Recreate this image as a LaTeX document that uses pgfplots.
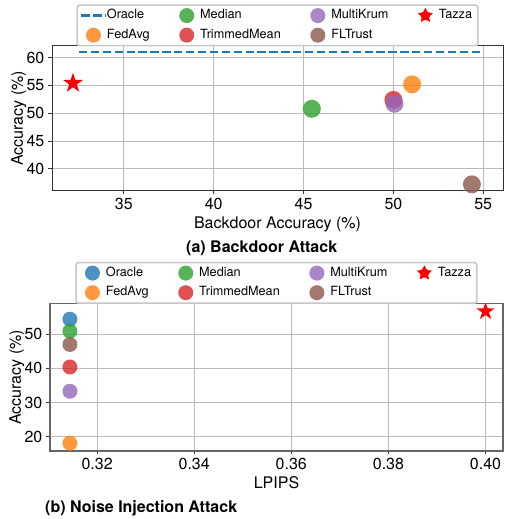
\documentclass[border=0pt]{standalone}
\usepackage{fontspec}
\setmainfont{TeX Gyre Heros}
\usepackage{pgfplots}
\pgfplotsset{compat=1.18}
\definecolor{c0}{HTML}{1F77B4}
\definecolor{c1}{HTML}{FF7F0E}
\definecolor{c2}{HTML}{2CA02C}
\definecolor{c3}{HTML}{D62728}
\definecolor{c4}{HTML}{9467BD}
\definecolor{c5}{HTML}{8C564B}
\definecolor{spine}{HTML}{333333}
\definecolor{gridc}{HTML}{BBBBBB}
\definecolor{legedge}{HTML}{C8C8C8}

\pgfdeclareplotmark{fstar}{%
  \pgfpathmoveto{\pgfpointpolar{90}{\pgfplotmarksize}}%
  \pgfpathlineto{\pgfpointpolar{126}{0.382*\pgfplotmarksize}}%
  \pgfpathlineto{\pgfpointpolar{162}{\pgfplotmarksize}}%
  \pgfpathlineto{\pgfpointpolar{198}{0.382*\pgfplotmarksize}}%
  \pgfpathlineto{\pgfpointpolar{234}{\pgfplotmarksize}}%
  \pgfpathlineto{\pgfpointpolar{270}{0.382*\pgfplotmarksize}}%
  \pgfpathlineto{\pgfpointpolar{306}{\pgfplotmarksize}}%
  \pgfpathlineto{\pgfpointpolar{342}{0.382*\pgfplotmarksize}}%
  \pgfpathlineto{\pgfpointpolar{18}{\pgfplotmarksize}}%
  \pgfpathlineto{\pgfpointpolar{54}{0.382*\pgfplotmarksize}}%
  \pgfpathclose
  \pgfusepathqfill
}
\pgfdeclareplotmark{fcirc}{%
  \pgfpathcircle{\pgfpointorigin}{\pgfplotmarksize}%
  \pgfusepathqfill
}

\newcommand{\legcirc}[1]{\addlegendimage{legend image code/.code={\path[draw=none,fill=none] (0pt,-6pt) rectangle (24pt,6pt); \fill[draw=none, fill=#1, fill opacity=0.8, overlay] (12pt,0pt) circle (7.5pt);}}}
\newcommand{\legdash}[1]{\addlegendimage{legend image code/.code={\path[draw=none,fill=none] (0pt,-6pt) rectangle (24pt,6pt); \draw[draw=#1, line width=2.4pt, dash pattern=on 8.3pt off 3.6pt, overlay] (0pt,0pt) -- (24pt,0pt);}}}
\newcommand{\legstar}{\addlegendimage{legend image code/.code={\path[draw=none,fill=none] (0pt,-6pt) rectangle (24pt,6pt); \fill[draw=none, fill=red, overlay, shift={(12pt,0pt)}] (90:9pt) -- (126:3.44pt) -- (162:9pt) -- (198:3.44pt) -- (234:9pt) -- (270:3.44pt) -- (306:9pt) -- (342:3.44pt) -- (18:9pt) -- (54:3.44pt) -- cycle;}}}

\pgfplotsset{
  base/.style={
    scale only axis, anchor=south west,
    axis line style={draw=spine, line width=1pt},
    grid=major, major grid style={draw=gridc, line width=0.8pt},
    tick align=outside, major tick length=3.5pt, tick pos=left,
    every tick/.style={draw=spine, line width=0.8pt},
    tick label style={font=\fontsize{16}{19}\selectfont, inner sep=0pt},
    xticklabel style={anchor=base, yshift=-14.8pt},
    yticklabel style={anchor=east, xshift=-4pt},
    /pgf/number format/assume math mode=true,
    label style={font=\fontsize{16}{19}\selectfont, inner sep=0pt},
    xlabel style={at={([yshift=-37.8pt]axis description cs:0.5,0)}, anchor=base},
    ylabel style={at={([xshift=-29pt]axis description cs:0,0.5)}, anchor=base},
    legend columns=4, legend cell align=left,
    legend style={at={(0.5,1)}, anchor=south, font=\fontsize{12.7}{15}\selectfont,
      draw=legedge, line width=1pt, rounded corners=2.5pt, fill=white,
      inner xsep=4pt, inner ysep=3pt,
      nodes={inner sep=1.4pt, text height=9.2pt, text depth=2.6pt},
      /tikz/every even column/.append style={column sep=23.6pt},
      row sep=5pt},
  },
}

\begin{document}
\begin{tikzpicture}
\useasboundingbox (0pt,0pt) rectangle (504pt,519pt);

\begin{axis}[base, at={(52pt,328pt)}, width=451pt, height=145pt,
  xmin=31.0, xmax=56.1, ymin=36.0, ymax=62.1,
  xtick={35,40,45,50,55}, ytick={40,45,50,55,60},
  legend style={name=legA},
  xlabel={Backdoor Accuracy (\%)}, ylabel={Accuracy (\%)}]
  \legdash{c0}\addlegendentry{Oracle}
  \legcirc{c2}\addlegendentry{Median}
  \legcirc{c4}\addlegendentry{MultiKrum}
  \legstar\addlegendentry{Tazza}
  \legcirc{c1}\addlegendentry{FedAvg}
  \legcirc{c3}\addlegendentry{TrimmedMean}
  \legcirc{c5}\addlegendentry{FLTrust}
  \addplot[c0, line width=2.4pt, dash pattern=on 8.3pt off 3.6pt, forget plot] coordinates {(32.5,61.0) (54.95,61.0)};
  \addplot[only marks, mark=fcirc, mark size=9pt, mark options={fill=c1, fill opacity=0.8}, forget plot] coordinates {(51.04,55.2)};
  \addplot[only marks, mark=fcirc, mark size=9pt, mark options={fill=c2, fill opacity=0.8}, forget plot] coordinates {(45.46,50.8)};
  \addplot[only marks, mark=fcirc, mark size=9pt, mark options={fill=c3, fill opacity=0.8}, forget plot] coordinates {(50.0,52.4)};
  \addplot[only marks, mark=fcirc, mark size=9pt, mark options={fill=c4, fill opacity=0.8}, forget plot] coordinates {(50.06,51.7)};
  \addplot[only marks, mark=fcirc, mark size=9pt, mark options={fill=c5, fill opacity=0.8}, forget plot] coordinates {(54.37,37.2)};
  \addplot[only marks, mark=fstar, mark size=10.5pt, mark options={fill=red}, forget plot] coordinates {(32.17,55.4)};
\end{axis}
\draw[legedge, line width=1pt, rounded corners=2.5pt] (legA.south west) rectangle (legA.north east);
\node[anchor=base west, font=\bfseries\fontsize{16}{19}\selectfont, inner sep=0pt] at (186pt,266.3pt) {(a) Backdoor Attack};

\begin{axis}[base, at={(50pt,68pt)}, width=453pt, height=147.5pt,
  axis line style={draw=black!60, line width=1.2pt},
  clip marker paths=true,
  xmin=0.3103, xmax=0.4036, ymin=15.8, ymax=59.0,
  xtick={0.32,0.34,0.36,0.38,0.40}, xticklabels={0.32,0.34,0.36,0.38,0.40},
  ytick={20,30,40,50},
  legend style={name=legB},
  xlabel={LPIPS}, ylabel={Accuracy (\%)}]
  \legcirc{c0}\addlegendentry{Oracle}
  \legcirc{c2}\addlegendentry{Median}
  \legcirc{c4}\addlegendentry{MultiKrum}
  \legstar\addlegendentry{Tazza}
  \legcirc{c1}\addlegendentry{FedAvg}
  \legcirc{c3}\addlegendentry{TrimmedMean}
  \legcirc{c5}\addlegendentry{FLTrust}
  \addplot[only marks, mark=fcirc, mark size=7.5pt, mark options={fill=c0, fill opacity=0.8}, forget plot] coordinates {(0.3144,54.4)};
  \addplot[only marks, mark=fcirc, mark size=7.5pt, mark options={fill=c1, fill opacity=0.8}, forget plot] coordinates {(0.3144,18.1)};
  \addplot[only marks, mark=fcirc, mark size=7.5pt, mark options={fill=c2, fill opacity=0.8}, forget plot] coordinates {(0.3144,50.9)};
  \addplot[only marks, mark=fcirc, mark size=7.5pt, mark options={fill=c3, fill opacity=0.8}, forget plot] coordinates {(0.3144,40.4)};
  \addplot[only marks, mark=fcirc, mark size=7.5pt, mark options={fill=c4, fill opacity=0.8}, forget plot] coordinates {(0.3144,33.3)};
  \addplot[only marks, mark=fcirc, mark size=7.5pt, mark options={fill=c5, fill opacity=0.8}, forget plot] coordinates {(0.3144,47.0)};
  \addplot[only marks, mark=fstar, mark size=9.5pt, mark options={fill=red}, forget plot] coordinates {(0.40,56.7)};
\end{axis}
\draw[legedge, line width=1pt, rounded corners=2.5pt] (legB.south west) rectangle (legB.north east);
\node[anchor=base west, font=\bfseries\fontsize{16}{19}\selectfont, inner sep=0pt] at (45pt,6.7pt) {(b) Noise Injection Attack};
\end{tikzpicture}
\end{document}
